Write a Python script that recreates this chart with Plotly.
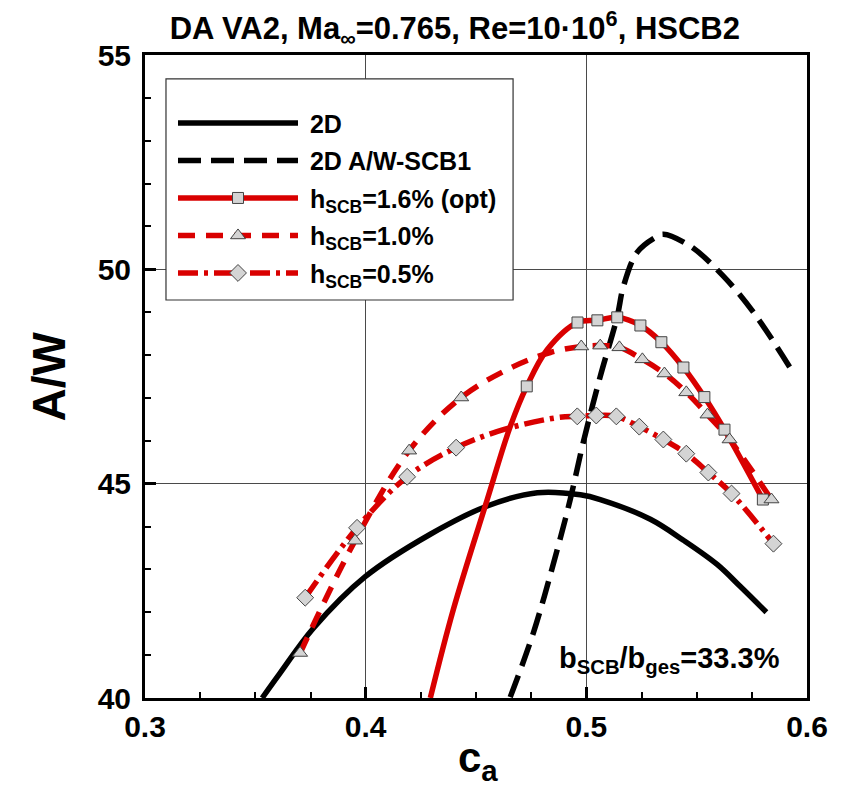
import plotly.graph_objects as go

# ---------------- data ----------------
# 2D (solid black line)
ca_2d = [0.3531, 0.3612, 0.3762, 0.3998, 0.4293, 0.4551, 0.4778, 0.4973, 0.5063, 0.529, 0.544, 0.5594, 0.5698, 0.5816]
aw_2d = [40.0, 40.58, 41.62, 42.83, 43.82, 44.48, 44.79, 44.74, 44.63, 44.17, 43.68, 43.11, 42.60, 42.0]

# 2D A/W-SCB1 (dashed black line)
ca_2d_scb1 = [0.4655, 0.476, 0.4868, 0.4927, 0.4986, 0.5063, 0.514, 0.5168, 0.5231, 0.5322, 0.5349, 0.5472, 0.5621, 0.5757, 0.5934]
aw_2d_scb1 = [40.02, 41.52, 43.46, 44.63, 45.96, 47.50, 48.90, 49.60, 50.40, 50.77, 50.82, 50.54, 49.84, 49.00, 47.62]

# h_SCB = 1.6% (opt) : line points and square markers
ca_h16_line = [0.4293, 0.4397, 0.4551, 0.4655, 0.473, 0.4823, 0.496, 0.505, 0.514, 0.5245, 0.534, 0.544, 0.5535, 0.5626, 0.580]
aw_h16_line = [40.0, 42.06, 44.63, 46.33, 47.27, 48.13, 48.76, 48.81, 48.88, 48.69, 48.30, 47.71, 47.02, 46.26, 44.63]
ca_h16_mark = [0.473, 0.496, 0.505, 0.514, 0.5245, 0.534, 0.544, 0.5535, 0.5626, 0.580]
aw_h16_mark = [47.27, 48.76, 48.81, 48.88, 48.69, 48.30, 47.71, 47.02, 46.26, 44.63]

# h_SCB = 1.0% : line points and triangle markers
ca_h10_line = [0.3703, 0.3952, 0.4197, 0.4433, 0.4669, 0.4837, 0.4977, 0.5063, 0.515, 0.5254, 0.5354, 0.5453, 0.5549, 0.5649, 0.5839]
aw_h10_line = [41.05, 43.67, 45.77, 47.01, 47.73, 48.06, 48.20, 48.22, 48.18, 47.90, 47.57, 47.13, 46.61, 46.03, 44.63]
ca_h10_mark = [0.3703, 0.3952, 0.4197, 0.4433, 0.4977, 0.5063, 0.515, 0.5254, 0.5354, 0.5453, 0.5549, 0.5649, 0.5839]
aw_h10_mark = [41.05, 43.67, 45.77, 47.01, 48.20, 48.22, 48.18, 47.90, 47.57, 47.13, 46.61, 46.03, 44.63]

# h_SCB = 0.5% : line points and diamond markers
ca_h05_line = [0.3726, 0.3961, 0.4188, 0.441, 0.4624, 0.4868, 0.4959, 0.5045, 0.5136, 0.524, 0.5349, 0.5453, 0.5553, 0.5658, 0.5848]
aw_h05_line = [42.34, 43.97, 45.16, 45.84, 46.26, 46.54, 46.57, 46.59, 46.57, 46.33, 46.03, 45.70, 45.26, 44.77, 43.60]
ca_h05_mark = [0.3726, 0.3961, 0.4188, 0.441, 0.4959, 0.5045, 0.5136, 0.524, 0.5349, 0.5453, 0.5553, 0.5658, 0.5848]
aw_h05_mark = [42.34, 43.97, 45.16, 45.84, 46.57, 46.59, 46.57, 46.33, 46.03, 45.70, 45.26, 44.77, 43.60]

x_ticks = [0.3, 0.4, 0.5, 0.6]
x_ticklabels = ["0.3", "0.4", "0.5", "0.6"]
y_ticks = [40, 45, 50, 55]
y_ticklabels = ["40", "45", "50", "55"]

series_names = ["2D", "2D A/W-SCB1", "h<sub>SCB</sub>=1.6% (opt)",
                "h<sub>SCB</sub>=1.0%", "h<sub>SCB</sub>=0.5%"]

# ---------------- styles ----------------
RED = "#d90000"
BLACK = "#000000"
LW = 5.5
DASH_BLACK = "23px,10px"
DASH_RED = "17px,11px"
DASHDOT_RED = "20px,6px,4px,6px"
MFILL = "#d4d4d4"
MLINE = "#444444"
FONT = "Liberation Sans, Arial, sans-serif"

fig = go.Figure()

def line_trace(x, y, color, dash):
    return go.Scatter(x=x, y=y, mode="lines", showlegend=False,
                      line=dict(color=color, width=LW, dash=dash, shape="spline", smoothing=1.0),
                      hoverinfo="skip")

def marker_trace(x, y, symbol, size):
    return go.Scatter(x=x, y=y, mode="markers", showlegend=False,
                      marker=dict(symbol=symbol, size=size, color=MFILL,
                                  line=dict(color=MLINE, width=1)),
                      hoverinfo="skip")

fig.add_trace(line_trace(ca_2d, aw_2d, BLACK, "solid"))
fig.add_trace(line_trace(ca_2d_scb1, aw_2d_scb1, BLACK, DASH_BLACK))
fig.add_trace(line_trace(ca_h16_line, aw_h16_line, RED, "solid"))
fig.add_trace(line_trace(ca_h10_line, aw_h10_line, RED, DASH_RED))
fig.add_trace(line_trace(ca_h05_line, aw_h05_line, RED, DASHDOT_RED))
fig.add_trace(marker_trace(ca_h16_mark, aw_h16_mark, "square", 11))
fig.add_trace(marker_trace(ca_h10_mark, aw_h10_mark, "triangle-up", 13))
fig.add_trace(marker_trace(ca_h05_mark, aw_h05_mark, "diamond", 13))

# legend-only entries
legend_styles = [
    (BLACK, "solid", None, 0),
    (BLACK, DASH_BLACK, None, 0),
    (RED, "solid", "square", 11),
    (RED, DASH_RED, "triangle-up", 13),
    (RED, DASHDOT_RED, "diamond", 13),
]
for i, (name, (col, dash, sym, sz)) in enumerate(zip(series_names, legend_styles)):
    kw = dict(x=[None], y=[None], name="&nbsp;" + name, legendgroup=f"g{i}",
              line=dict(color=col, width=LW, dash=dash))
    if sym:
        kw["mode"] = "lines+markers"
        kw["marker"] = dict(symbol=sym, size=sz, color=MFILL, line=dict(color=MLINE, width=1))
    else:
        kw["mode"] = "lines"
    fig.add_trace(go.Scatter(**kw))

axis_common = dict(
    showline=True, linecolor="black", linewidth=3, mirror=True,
    ticks="inside", ticklen=11, tickwidth=2.5, tickcolor="black",
    showgrid=True, gridcolor="#4a4a4a", gridwidth=1, zeroline=False,
    tickfont=dict(family=FONT, size=30, color="black", weight="bold"),
)

fig.update_xaxes(range=[0.3, 0.6], tickvals=x_ticks, ticktext=x_ticklabels,
                 minor=dict(dtick=0.025, ticks="inside", ticklen=6, tickwidth=1.5,
                            tickcolor="black", showgrid=False),
                 **axis_common)
fig.update_yaxes(range=[40, 55], tickvals=y_ticks, ticktext=y_ticklabels,
                 ticklabelstandoff=5,
                 minor=dict(dtick=1, ticks="inside", ticklen=6, tickwidth=1.5,
                            tickcolor="black", showgrid=False),
                 **axis_common)

# page body adds an 8px offset; plot area spans screen x 145..807, y 55..698
fig.update_layout(
    width=837, height=783,
    margin=dict(l=137, r=38, t=47, b=93),
    paper_bgcolor="white", plot_bgcolor="white",
    font=dict(family=FONT, color="black"),
    title=dict(text="DA VA2, Ma<sub>∞</sub>=0.765, Re=10·10<sup>6</sup>, HSCB2",
               xref="paper", x=0.468, xanchor="center",
               yref="container", y=0.974, yanchor="middle",
               font=dict(family=FONT, size=31, weight="bold", color="black")),
    legend=dict(x=0.0423, y=0.958, xanchor="left", yanchor="top",
                bgcolor="rgba(0,0,0,0)", borderwidth=0,
                itemwidth=120, tracegroupgap=2,
                font=dict(family=FONT, size=25, weight="bold", color="black"),
                title=dict(text=" ", font=dict(size=14))),
    shapes=[
        dict(type="rect", xref="paper", yref="paper", x0=0.0317, x1=0.556,
             y0=0.619, y1=0.963, line=dict(color="#333333", width=1.2),
             fillcolor="white", layer="above"),
    ],
    annotations=[
        dict(text="A/W", xref="paper", yref="paper", x=-0.1465, y=0.5,
             showarrow=False, textangle=-90, xanchor="center", yanchor="middle",
             font=dict(family=FONT, size=46, weight="bold", color="black")),
        dict(text="c<sub>a</sub>", xref="paper", yref="paper", x=0.503, y=-0.097,
             showarrow=False, xanchor="center", yanchor="middle",
             font=dict(family=FONT, size=42, weight="bold", color="black")),
        dict(text="b<sub>SCB</sub>/b<sub>ges</sub>=33.3%", xref="paper", yref="paper",
             x=0.622, y=0.059, showarrow=False, xanchor="left", yanchor="middle",
             font=dict(family=FONT, size=29, weight="bold", color="black")),
    ],
)

fig.write_html("out.html")
